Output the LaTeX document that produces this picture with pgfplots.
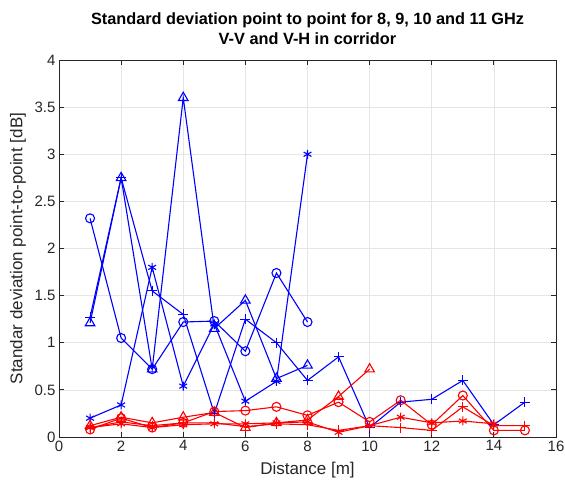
\documentclass[border=0pt]{standalone}
\usepackage{fontspec}
\setmainfont{Liberation Sans}
\usepackage{pgfplots}
\pgfplotsset{compat=1.18}

\definecolor{axgray}{gray}{0.15}
\definecolor{gridgray}{gray}{0.9}

\begin{document}
\begin{tikzpicture}
\path[use as bounding box] (-59pt,-48pt) rectangle (506pt,437pt);
\begin{axis}[
  at={(0pt,0pt)}, anchor=south west,
  width=497pt, height=377pt, scale only axis,
  xmin=0, xmax=16, ymin=0, ymax=4,
  xtick={0,2,...,16}, ytick={0,0.5,...,4},
  xtick pos=both, ytick pos=both,
  tick align=inside, major tick length=5pt,
  grid=major, grid style={gridgray, line width=0.6pt},
  axis line style={axgray, line width=0.8pt},
  tick style={axgray, line width=0.8pt},
  /pgf/number format/assume math mode=true,
  yticklabel style={/pgf/number format/fixed},
  every tick label/.append style={font=\fontsize{15}{18}\selectfont, text=axgray},
  title={Standard deviation point to point for 8, 9, 10 and 11 GHz\\V-V and V-H in corridor},
  title style={font=\bfseries\fontsize{16.3}{20}\selectfont, align=center,
    at={(axis description cs:0.5,1)}, anchor=south, yshift=6pt},
  xlabel={Distance [m]},
  xlabel style={font=\fontsize{17}{20}\selectfont, text=axgray,
    at={(axis description cs:0.5,-0.0875)}, anchor=center},
  ylabel={Standar deviation point-to-point [dB]},
  ylabel style={font=\fontsize{17}{20}\selectfont, text=axgray,
    at={(axis description cs:-0.0825,0.5)}, anchor=center},
  every axis plot/.append style={line width=1.1pt},
]
% V-H (blue)
\addplot[blue, mark=o, mark size=4.5pt] coordinates {
  (1,2.32) (2,1.05) (3,0.72) (4,1.22) (5,1.23) (6,0.91) (7,1.74) (8,1.22)};
\addplot[blue, mark=triangle, mark size=5.5pt] coordinates {
  (1,1.21) (2,2.75) (3,0.72) (4,3.60) (5,1.15) (6,1.45) (7,0.62) (8,0.76)};
\addplot[blue, mark=asterisk, mark size=4.5pt] coordinates {
  (1,0.20) (2,0.34) (3,1.80) (4,0.54) (5,1.20) (6,0.38) (7,0.59) (8,3.00)};
\addplot[blue, mark=+, mark size=5pt] coordinates {
  (1,1.27) (2,2.75) (3,1.55) (4,1.30) (5,0.25) (6,1.25) (7,1.00) (8,0.60)
  (9,0.85) (10,0.10) (11,0.37) (12,0.40) (13,0.60) (14,0.13) (15,0.37)};
% V-V (red)
\addplot[red, mark=o, mark size=4.5pt] coordinates {
  (1,0.08) (2,0.20) (3,0.10) (4,0.15) (5,0.27) (6,0.28) (7,0.32) (8,0.23)
  (9,0.37) (10,0.16) (11,0.39) (12,0.13) (13,0.44) (14,0.07) (15,0.07)};
\addplot[red, mark=triangle, mark size=5.5pt] coordinates {
  (1,0.12) (2,0.21) (3,0.15) (4,0.21) (5,0.26) (6,0.10) (7,0.15) (8,0.18)
  (9,0.43) (10,0.72)};
\addplot[red, mark=asterisk, mark size=4.5pt] coordinates {
  (1,0.10) (2,0.14) (3,0.10) (4,0.13) (5,0.14) (6,0.14) (7,0.15) (8,0.16)
  (9,0.05) (10,0.12) (11,0.21) (12,0.15) (13,0.17) (14,0.14)};
\addplot[red, mark=+, mark size=5pt] coordinates {
  (1,0.10) (2,0.16) (3,0.12) (4,0.15) (5,0.15) (6,0.11) (7,0.14) (8,0.13)
  (9,0.07) (10,0.12) (11,0.10) (12,0.07) (13,0.32) (14,0.12) (15,0.12)};
\end{axis}
\end{tikzpicture}
\end{document}
